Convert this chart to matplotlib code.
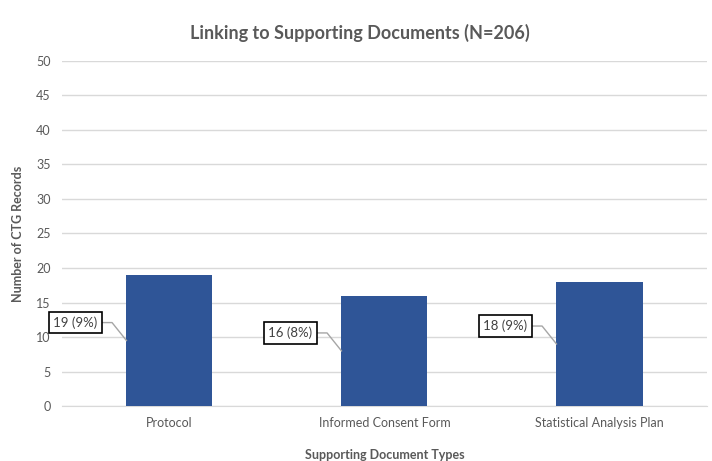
import matplotlib
matplotlib.use("Agg")
import matplotlib.pyplot as plt
import numpy as np

# -----------------------------
# DATA
# -----------------------------
categories = ["Protocol", "Informed Consent Form", "Statistical Analysis Plan"]
counts = [19, 16, 18]
percent_labels = ["19 (9%)", "16 (8%)", "18 (9%)"]
total_n = 206

plt.rcParams["font.family"] = ["Lato", "DejaVu Sans"]

BAR_COLOR = "#2F5597"
TEXT_COLOR = "#595959"
GRID_COLOR = "#D9D9D9"

fig = plt.figure(figsize=(7.12, 4.61), dpi=100)
ax = fig.add_axes([0.087, 0.119, 0.906, 0.749])

x = np.arange(len(categories))
bar_w = 0.4
ax.bar(x, counts, width=bar_w, color=BAR_COLOR, zorder=3)

# gridlines / axes
ax.set_ylim(0, 50)
ax.set_xlim(-0.5, len(categories) - 0.5)
ax.set_yticks(np.arange(0, 51, 5))
ax.yaxis.grid(True, color=GRID_COLOR, linewidth=1, zorder=0)
ax.set_axisbelow(True)
for side in ["top", "right", "left"]:
    ax.spines[side].set_visible(False)
ax.spines["bottom"].set_color(GRID_COLOR)
ax.tick_params(axis="both", length=0, labelsize=9, colors=TEXT_COLOR, pad=8)
ax.set_xticks(x)
ax.set_xticklabels(categories)

# data labels with leader lines
for i, (v, lab) in enumerate(zip(counts, percent_labels)):
    end_x, end_y = i - bar_w / 2, v * 0.5
    knee_x, knee_y = i - 0.267, v * 0.5 + 2.6
    txt_x = i - 0.335
    ax.plot([txt_x, knee_x, end_x], [knee_y, knee_y, end_y],
            color="#A6A6A6", linewidth=1, zorder=4)
    ax.text(txt_x, knee_y, lab, ha="right", va="center", fontsize=9.5,
            color="#404040", zorder=5,
            bbox=dict(boxstyle="square,pad=0.35", facecolor="white",
                      edgecolor="black", linewidth=1.2))

fig.suptitle(f"Linking to Supporting Documents (N={total_n})", x=0.505, y=0.948,
             fontsize=13, fontweight="bold", color=TEXT_COLOR)
ax.set_xlabel("Supporting Document Types", fontsize=9, fontweight="bold",
              color=TEXT_COLOR, labelpad=14)
ax.set_ylabel("Number of CTG Records", fontsize=9, fontweight="bold",
              color=TEXT_COLOR, labelpad=9)

fig.savefig("out.png", dpi=100)
